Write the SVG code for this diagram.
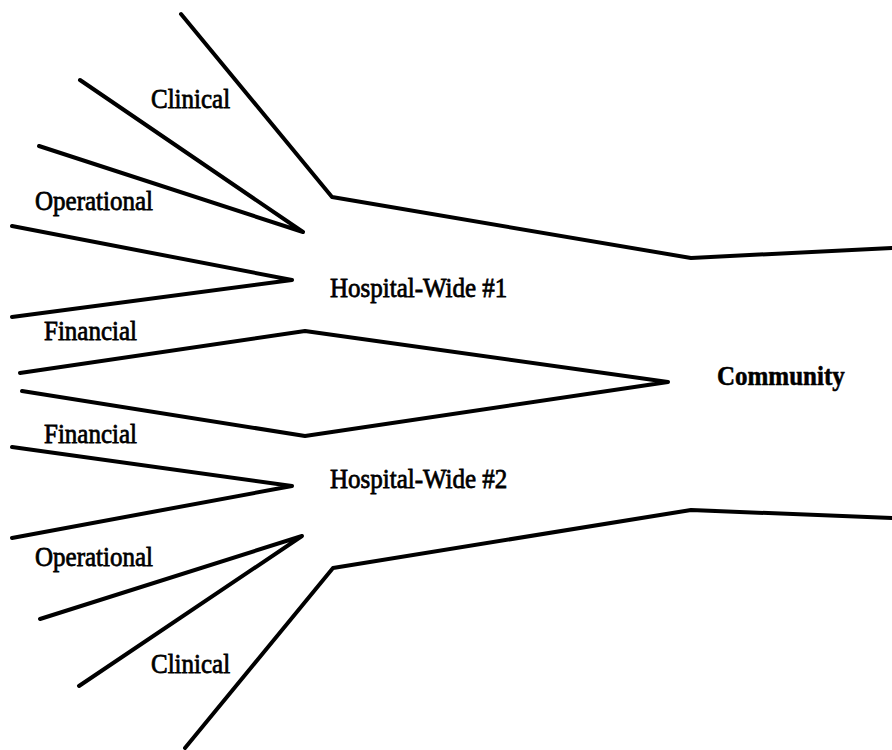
<svg xmlns="http://www.w3.org/2000/svg" width="892" height="750" viewBox="0 0 892 750">
  <style>
    .edge { fill: none; stroke: #000; stroke-width: 4; stroke-linejoin: round; stroke-linecap: round; }
    .lbl { font-family: "Liberation Serif", "Times New Roman", serif; font-size: 25px; fill: #000; stroke: #000; stroke-width: 0.7; }
    .bold { font-weight: bold; stroke-width: 0.5; }
  </style>
  <rect width="892" height="750" fill="#fff"/>

  <!-- branching outlines -->
  <g id="connectors">
    <polyline class="edge" points="181,14 332,197 691,258 892,248"/>
    <polyline class="edge" points="80,80 303,232 39,146"/>
    <polyline class="edge" points="12,226 292,280 12,317"/>
    <polyline class="edge" points="20,373 305,331 668,382 305,436 22,391"/>
    <polyline class="edge" points="12,447 292,486 12,538"/>
    <polyline class="edge" points="40,619 302,536 79,686"/>
    <polyline class="edge" points="185,748 333,568 691,510 892,518"/>
  </g>

  <!-- labels, stretched slightly in height about their baselines -->
  <g id="clinical-1" transform="translate(151,108) scale(1,1.1)"><text class="lbl">Clinical</text></g>
  <g id="operational-1" transform="translate(35,210) scale(1,1.1)"><text class="lbl">Operational</text></g>
  <g id="financial-1" transform="translate(44,340) scale(1,1.1)"><text class="lbl">Financial</text></g>
  <g id="hospital-wide-1" transform="translate(330,297) scale(1,1.1)"><text class="lbl">Hospital-Wide #1</text></g>
  <g id="community" transform="translate(717,385) scale(1,1.1)"><text class="lbl bold">Community</text></g>
  <g id="financial-2" transform="translate(44,443) scale(1,1.1)"><text class="lbl">Financial</text></g>
  <g id="hospital-wide-2" transform="translate(330,488) scale(1,1.1)"><text class="lbl">Hospital-Wide #2</text></g>
  <g id="operational-2" transform="translate(35,566) scale(1,1.1)"><text class="lbl">Operational</text></g>
  <g id="clinical-2" transform="translate(151,673) scale(1,1.1)"><text class="lbl">Clinical</text></g>
</svg>
